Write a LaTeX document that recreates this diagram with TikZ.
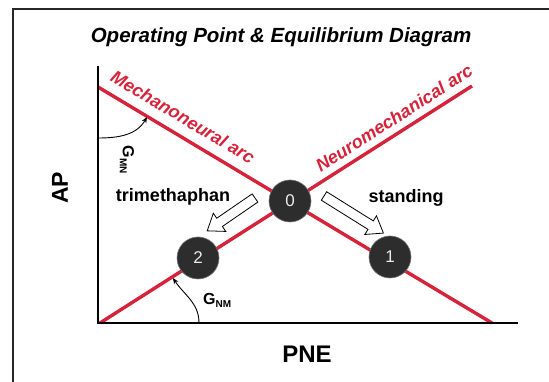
\documentclass[tikz,border=0pt]{standalone}
\usepackage{fontspec}
\setmainfont{Liberation Sans}
\usetikzlibrary{arrows.meta}
\definecolor{arcred}{RGB}{214,35,58}
\definecolor{dotfill}{RGB}{45,45,45}
\begin{document}
\begin{tikzpicture}[x=1pt,y=1pt,
  redline/.style={arcred, line width=3.4pt},
  axisline/.style={black, line width=1.6pt},
  opdot/.style={circle, fill=dotfill, draw=black!55, line width=0.6pt, minimum size=42pt, inner sep=0pt, text=white!92!black, font=\fontsize{17}{17}\selectfont},
  arclabel/.style={text=arcred, font=\fontsize{18}{18}\selectfont\bfseries\itshape, inner sep=0pt},
  lbl/.style={font=\fontsize{18}{18}\selectfont\bfseries, inner sep=0pt},
  gainlbl/.style={font=\fontsize{16}{16}\selectfont\bfseries, inner sep=0pt},
  gain/.style={-{Stealth[length=6pt,width=5pt]}, line width=0.9pt},
  blockarrow/.style={draw=black, fill=white, line width=0.8pt, line join=miter}]

\useasboundingbox (0,0) rectangle (549,382);
\clip (0,0) rectangle (549,382);
\draw[line width=1.1pt, black!85] (13,373) rectangle (570,-20);

\node[font=\fontsize{20.5}{20.5}\selectfont\bfseries\itshape, anchor=base] (title) at (281,339) {Operating Point \& Equilibrium Diagram};

% red arcs
\coordinate (mnA) at (98,295); \coordinate (mnB) at (492,59);
\coordinate (nmA) at (100,59); \coordinate (nmB) at (472,296);
\draw[redline] (mnA) -- (mnB);
\draw[redline] (nmA) -- (nmB);

% axes
\coordinate (O) at (98,59);
\coordinate (ytop) at (98,316);
\coordinate (xend) at (518,59);
\draw[axisline] (ytop) -- (O) -- (xend);

\node[arclabel, rotate=-30.9] (mnlabel) at (183,265) {Mechanoneural arc};
\node[arclabel, rotate=32.6] (nmlabel) at (394,264) {Neuromechanical arc};

\node[opdot] (c0) at (290,181) {0};
\node[opdot] (c1) at (390,125) {1};
\node[opdot] (c2) at (198,124) {2};

% block arrows
\coordinate (a1) at (324,186);
\coordinate (a2) at (255,184);
\begin{scope}[shift={(a1)}, rotate=-32]
\draw[blockarrow] (0,-5) -- (55,-5) -- (55,-11) -- (70,0) -- (55,11) -- (55,5) -- (0,5) -- cycle;
\end{scope}
\begin{scope}[shift={(a2)}, rotate=214.5]
\draw[blockarrow] (0,-5) -- (43,-5) -- (43,-11) -- (58,0) -- (43,11) -- (43,5) -- (0,5) -- cycle;
\end{scope}

\node[lbl, anchor=base] (trim) at (173,180) {trimethaphan};
\node[lbl, anchor=base] (stand) at (406,179) {standing};
\node[font=\fontsize{23}{23}\selectfont\bfseries, rotate=90] (AP) at (60,194) {AP};
\node[font=\fontsize{24}{24}\selectfont\bfseries, anchor=base] (PNE) at (307,19) {PNE};

% gains
\coordinate (gmnA) at (98,244); \coordinate (gmnB) at (147,265);
\draw[gain] (gmnA) to[out=0, in=-120] (gmnB);
\node[gainlbl, rotate=-90] (gmn) at (127,222) {G{\fontsize{10}{10}\selectfont\raisebox{-3pt}{MN}}};
\coordinate (gnmA) at (199,59); \coordinate (gnmB) at (173,104);
\draw[gain] (gnmA) to[out=90, in=-57] (gnmB);
\node[gainlbl, anchor=base west] (gnm) at (203,77) {G{\fontsize{10}{10}\selectfont\raisebox{-3pt}{NM}}};
\end{tikzpicture}
\end{document}
